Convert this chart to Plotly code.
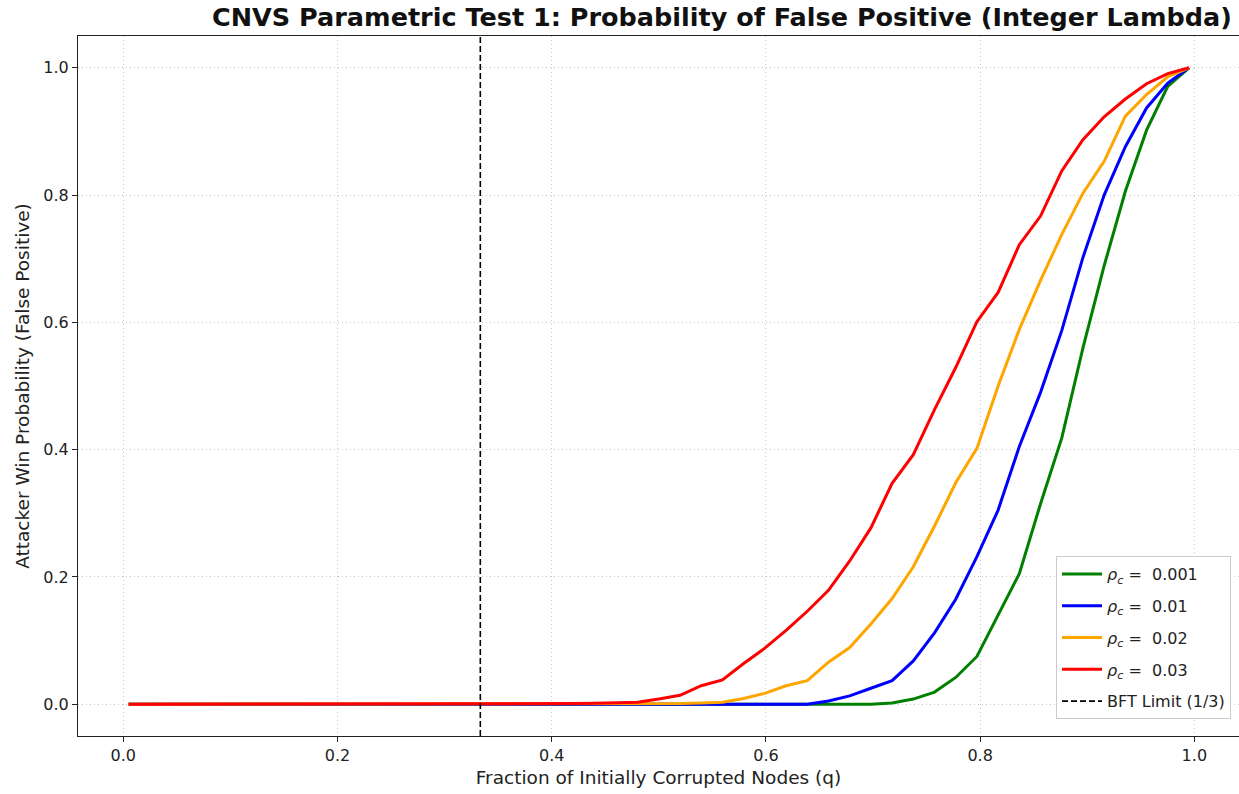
import plotly.graph_objects as go

# q grid (fraction of initially corrupted nodes)
q = [0.005, 0.0248, 0.0446, 0.0644, 0.0842, 0.104, 0.1238, 0.1436, 0.1634, 0.1832,
     0.203, 0.2228, 0.2426, 0.2624, 0.2822, 0.302, 0.3218, 0.3416, 0.3614, 0.3812,
     0.401, 0.4208, 0.4406, 0.4604, 0.4802, 0.5, 0.5198, 0.5396, 0.5594, 0.5792,
     0.599, 0.6188, 0.6386, 0.6584, 0.6782, 0.698, 0.7178, 0.7376, 0.7574, 0.7772,
     0.797, 0.8168, 0.8366, 0.8564, 0.8762, 0.896, 0.9158, 0.9356, 0.9554, 0.9752,
     0.995]

zeros20 = [0.0] * 20

p_0001 = zeros20 + [0.0, 0.0, 0.0, 0.0, 0.0, 0.0, 0.0, 0.0, 0.0, 0.0,
                    0.0, 0.0, 0.0, 0.0, 0.0, 0.0, 0.002, 0.008, 0.019, 0.042,
                    0.075, 0.14, 0.205, 0.315, 0.418, 0.56, 0.689, 0.806, 0.902, 0.971,
                    1.0]

p_001 = zeros20 + [0.0, 0.0, 0.0, 0.0, 0.0, 0.0, 0.0, 0.0, 0.0, 0.0,
                   0.0, 0.0, 0.0, 0.005, 0.013, 0.025, 0.037, 0.068, 0.112, 0.165,
                   0.232, 0.305, 0.405, 0.49, 0.587, 0.702, 0.8, 0.876, 0.937, 0.976,
                   1.0]

p_002 = zeros20 + [0.0, 0.0, 0.0, 0.0, 0.0, 0.0, 0.001, 0.002, 0.003, 0.009,
                   0.017, 0.029, 0.037, 0.066, 0.089, 0.126, 0.166, 0.216, 0.28, 0.348,
                   0.402, 0.5, 0.589, 0.666, 0.738, 0.803, 0.853, 0.924, 0.958, 0.986,
                   1.0]

p_003 = zeros20 + [0.0005, 0.001, 0.0015, 0.002, 0.003, 0.008, 0.014, 0.029, 0.038, 0.064,
                   0.088, 0.116, 0.146, 0.179, 0.225, 0.277, 0.347, 0.392, 0.463, 0.529,
                   0.601, 0.647, 0.722, 0.767, 0.838, 0.887, 0.923, 0.951, 0.975, 0.991,
                   1.0]

rho_labels = ["0.001", "0.01", "0.02", "0.03"]
series = [p_0001, p_001, p_002, p_003]
colors = ["green", "blue", "orange", "red"]

bft_limit = 1 / 3
x_range = [-0.0423, 1.0417]
y_range = [-0.05, 1.05]
tick_vals = [0.0, 0.2, 0.4, 0.6, 0.8, 1.0]
tick_text = ["0.0", "0.2", "0.4", "0.6", "0.8", "1.0"]

fig = go.Figure()
for i, (lab, ys, col) in enumerate(zip(rho_labels, series, colors)):
    fig.add_trace(go.Scatter(
        x=q, y=ys, mode="lines",
        name="<i>ρ</i><sub><i>c</i></sub> =\u00a0\u00a0" + lab,
        legendgroup="g%d" % i,
        line=dict(color=col, width=3),
    ))

fig.add_trace(go.Scatter(
    x=[bft_limit, bft_limit], y=y_range, mode="lines",
    name="BFT Limit (1/3)", legendgroup="g_bft",
    line=dict(color="black", width=1.6, dash="6px,3px"),
))

axis_common = dict(
    showline=True, linecolor="#222", linewidth=1.2, mirror=True,
    ticks="outside", ticklen=5, tickcolor="#222",
    showgrid=True, gridcolor="#c8c8c8", gridwidth=1, griddash="1px,3px",
    zeroline=False,
    tickfont=dict(family="DejaVu Sans", size=16, color="#222"),
)

fig.update_layout(
    width=1239, height=794,
    margin=dict(l=78, r=0, t=36, b=58),
    paper_bgcolor="white", plot_bgcolor="white",
    title=dict(
        text="<b>CNVS Parametric Test 1: Probability of False Positive (Integer Lambda)</b>",
        x=722 / 1239, xanchor="center", y=1 - 17 / 794, yanchor="middle",
        font=dict(family="DejaVu Sans", size=25.5, color="#111"),
    ),
    xaxis=dict(axis_common, range=x_range, tickvals=tick_vals, ticktext=tick_text,
               title=dict(text="Fraction of Initially Corrupted Nodes (q)",
                          font=dict(family="DejaVu Sans", size=18.5, color="#222"), standoff=6)),
    yaxis=dict(axis_common, range=y_range, tickvals=tick_vals, ticktext=tick_text,
               title=dict(text="Attacker Win Probability (False Positive)",
                          font=dict(family="DejaVu Sans", size=18.5, color="#222"), standoff=8)),
    legend=dict(
        x=(1231 - 78) / 1161, xanchor="right", y=(736 - 719) / 700, yanchor="bottom",
        bgcolor="rgba(255,255,255,0.9)", bordercolor="#cccccc", borderwidth=1,
        font=dict(family="DejaVu Sans", size=16, color="#222"),
        tracegroupgap=8,
        itemwidth=40,
    ),
    showlegend=True,
)

fig.write_html("out.html")
